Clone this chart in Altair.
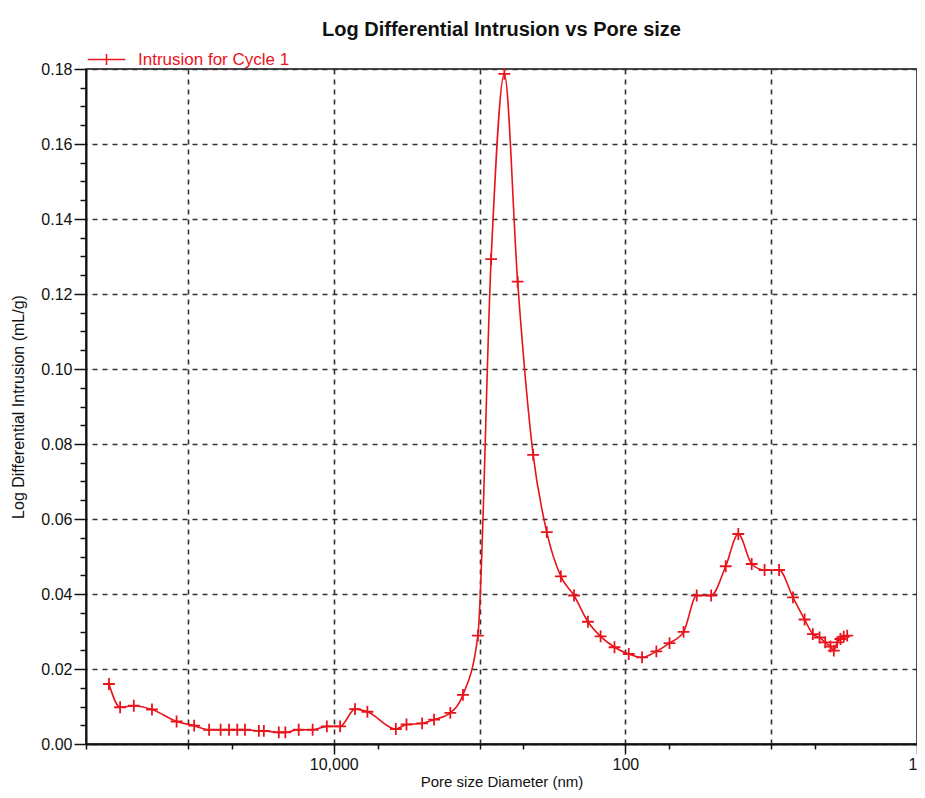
import altair as alt
import pandas as pd

# ---- data ----
pore_size_nm = [348000, 291700, 235000, 176400, 119600, 90600, 71550, 59640, 52260, 45860,
                40630, 32610, 30150, 23810, 21470, 17390, 13950, 11150, 9043, 7145,
                5879, 3751, 3170, 2477, 2051, 1587, 1300, 1027, 833, 676,
                548, 429, 346, 277, 225, 180.6, 147.9, 118.7, 94.8, 76.8,
                61.3, 49.8, 39.9, 32.4, 25.8, 20.5, 16.8, 13.6, 11.1, 8.83,
                7.09, 5.90, 5.18, 4.66, 4.26, 3.92, 3.72, 3.53, 3.35, 3.18, 3.01]
log_diff_intrusion = [0.0160, 0.0098, 0.0102, 0.0092, 0.0060, 0.0049, 0.0038, 0.0038, 0.0038, 0.0038,
                      0.0038, 0.0035, 0.0035, 0.0031, 0.0031, 0.0038, 0.0038, 0.0047, 0.0047, 0.0093,
                      0.0086, 0.0040, 0.0052, 0.0055, 0.0065, 0.0083, 0.0131, 0.0289, 0.1293, 0.1787,
                      0.1233, 0.0771, 0.0565, 0.0447, 0.0396, 0.0326, 0.0287, 0.0258, 0.0240, 0.0231,
                      0.0247, 0.0269, 0.0299, 0.0396, 0.0396, 0.0474, 0.0560, 0.0480, 0.0464, 0.0464,
                      0.0391, 0.0332, 0.0293, 0.0284, 0.0271, 0.0260, 0.0249, 0.0271, 0.0280, 0.0286, 0.0289]
series_name = "Intrusion for Cycle 1"

y_major_ticks = [0.0, 0.02, 0.04, 0.06, 0.08, 0.10, 0.12, 0.14, 0.16, 0.18]
y_minor_ticks = [0.005, 0.01, 0.015, 0.025, 0.03, 0.035, 0.045, 0.05, 0.055, 0.065, 0.07, 0.075,
                 0.085, 0.09, 0.095, 0.105, 0.11, 0.115, 0.125, 0.13, 0.135, 0.145, 0.15, 0.155,
                 0.165, 0.17, 0.175]
x_label_ticks = [10000, 100, 1]
x_minor_ticks = [500000, 100000, 50000, 5000, 1000, 500, 50, 10, 5]
x_grid_lines = [100000, 10000, 1000, 100, 10]

df = pd.DataFrame({
    "size": pore_size_nm,
    "ldi": log_diff_intrusion,
    "idx": list(range(len(pore_size_nm))),
    "series": [series_name] * len(pore_size_nm),
})

RED = "#e8141c"
FONT = "Liberation Sans"
INK = "#111111"

x_scale = alt.Scale(type="log", domain=[1, 500000], reverse=True, nice=False)
y_scale = alt.Scale(domain=[0, 0.18], nice=False, zero=True)

base = alt.Chart(df)

line = base.mark_line(color=RED, strokeWidth=1.6, interpolate="monotone").encode(
    x=alt.X("size:Q", scale=x_scale,
            axis=alt.Axis(values=x_label_ticks, format=",", orient="bottom", tickSize=10,
                          grid=False, labelPadding=2, labelFlush=True,
                          title="Pore size Diameter (nm)", titlePadding=2,
                          titleFontSize=15)),
    y=alt.Y("ldi:Q", scale=y_scale,
            axis=alt.Axis(values=y_major_ticks, format=".2f", orient="left", tickSize=12,
                          grid=True, gridDash=[5, 5], gridColor="#333333", gridWidth=1.6,
                          labelPadding=2, title="Log Differential Intrusion (mL/g)",
                          titlePadding=14)),
    order=alt.Order("idx:Q"),
)

points = base.mark_point(shape="M-1,0H1M0,-1V1", size=140, filled=False,
                         strokeWidth=1.8, opacity=1).encode(
    x=alt.X("size:Q", scale=x_scale,
            axis=alt.Axis(values=x_grid_lines, orient="bottom", grid=True, gridDash=[5, 5],
                          gridColor="#333333", gridWidth=1.6, ticks=False, labels=False,
                          domain=False, title=None)),
    y=alt.Y("ldi:Q", scale=y_scale,
            axis=alt.Axis(values=y_minor_ticks, orient="left", tickSize=6, labels=False,
                          domain=False, grid=False, title=None)),
    color=alt.Color("series:N", scale=alt.Scale(domain=[series_name], range=[RED]),
                    legend=alt.Legend(title=None, orient="none", legendX=1, legendY=-29,
                                      symbolType="M-1,0H1M0,-0.3V0.3", symbolSize=1400,
                                      symbolStrokeWidth=1.5, labelFontSize=17,
                                      labelColor=RED, labelFont=FONT, labelOffset=12)),
)

minor = base.mark_line(opacity=0).encode(
    x=alt.X("size:Q", scale=x_scale,
            axis=alt.Axis(values=x_minor_ticks, orient="bottom", tickSize=5, labels=False,
                          domain=False, grid=False, title=None)),
    y=alt.Y("ldi:Q", scale=y_scale, axis=None),
)

chart = alt.layer(line, points, minor).resolve_axis(
    x="independent", y="independent"
).properties(
    width=831,
    height=675,
    autosize=alt.AutoSizeParams(type="none"),
    padding={"left": 78, "top": 61, "right": 0, "bottom": 46},
    title=alt.Title("Log Differential Intrusion vs Pore size", fontSize=20,
                    fontWeight="bold", font=FONT, anchor="middle", color=INK, offset=0),
).configure_view(
    stroke=INK, strokeWidth=1.5
).configure_axis(
    labelFont=FONT, titleFont=FONT, labelFontSize=16, titleFontSize=16,
    titleFontWeight="normal", labelColor=INK, titleColor=INK,
    domainColor=INK, domainWidth=2, tickColor=INK, tickWidth=1.5,
)

chart.save("out.html", embed_options={"renderer": "svg", "actions": False})
